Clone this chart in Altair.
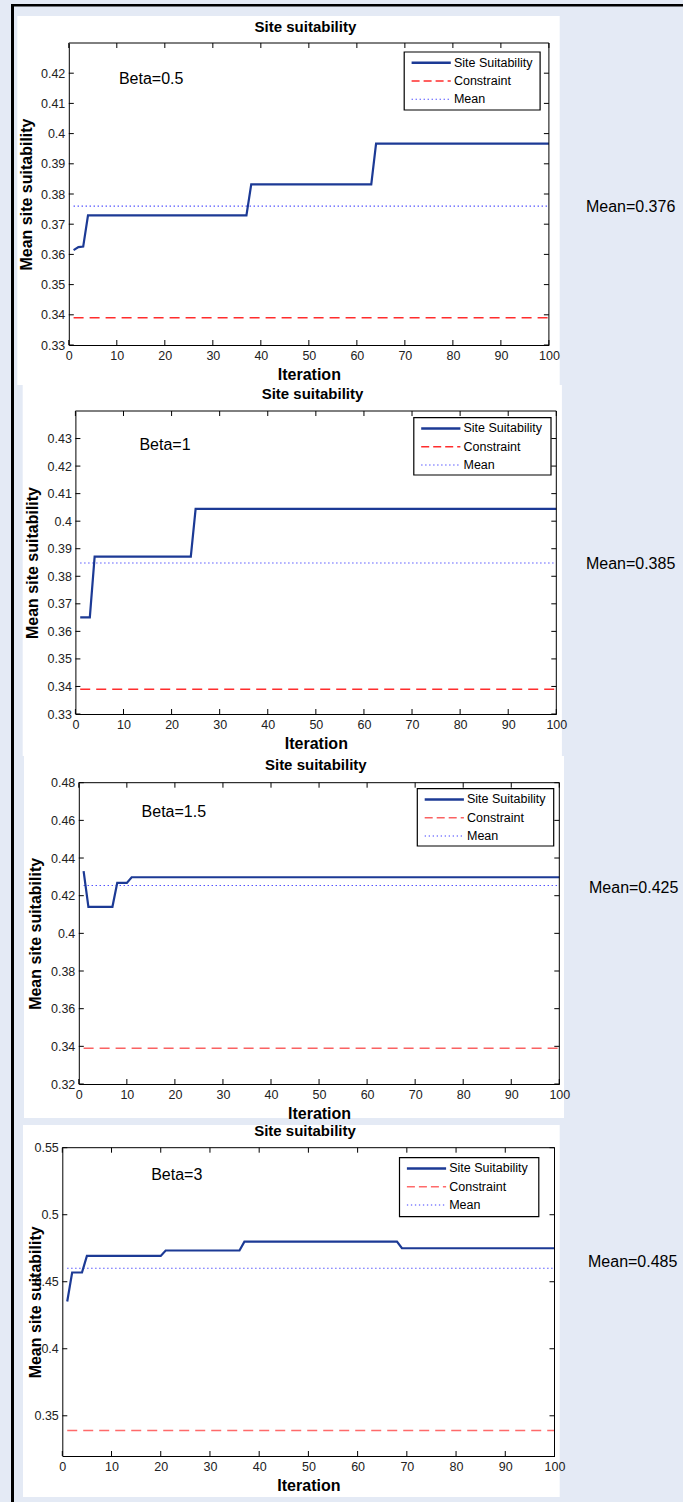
import altair as alt
import pandas as pd

# ---------------- data ----------------
BETA_LABELS = ["Beta=0.5", "Beta=1", "Beta=1.5", "Beta=3"]
MEAN_LABELS = ["Mean=0.376", "Mean=0.385", "Mean=0.425", "Mean=0.485"]
LEGEND_LABELS = ["Site Suitability", "Constraint", "Mean"]
TITLE = "Site suitability"

ITER_1 = [1, 2, 3, 4, 37, 38, 63, 64, 100]
SUIT_1 = [0.3614, 0.3624, 0.3626, 0.3729, 0.3729, 0.3832, 0.3832, 0.3967, 0.3967]

ITER_2 = [1, 3, 4, 24, 25, 100]
SUIT_2 = [0.3651, 0.3651, 0.3871, 0.3871, 0.4045, 0.4045]

ITER_3 = [1, 2, 7, 8, 10, 11, 100]
SUIT_3 = [0.4330, 0.4141, 0.4141, 0.4268, 0.4268, 0.4298, 0.4298]

ITER_4 = [1, 2, 4, 5, 20, 21, 36, 37, 68, 69, 100]
SUIT_4 = [0.4353, 0.4569, 0.4569, 0.4693, 0.4693, 0.4733, 0.4733, 0.4799, 0.4799, 0.4750, 0.4750]

CONSTRAINT = [0.339, 0.339, 0.339, 0.339]
MEAN_LINE = [0.376, 0.3848, 0.4254, 0.4601]

X_TICKS = [0, 10, 20, 30, 40, 50, 60, 70, 80, 90, 100]
Y_DOMAINS = [[0.33, 0.43], [0.33, 0.44], [0.32, 0.48], [0.32, 0.55]]
Y_TICKS = [
    [0.33, 0.34, 0.35, 0.36, 0.37, 0.38, 0.39, 0.40, 0.41, 0.42],
    [0.33, 0.34, 0.35, 0.36, 0.37, 0.38, 0.39, 0.40, 0.41, 0.42, 0.43],
    [0.32, 0.34, 0.36, 0.38, 0.40, 0.42, 0.44, 0.46, 0.48],
    [0.35, 0.40, 0.45, 0.50, 0.55],
]

ITERS = [ITER_1, ITER_2, ITER_3, ITER_4]
SUITS = [SUIT_1, SUIT_2, SUIT_3, SUIT_4]

# ---------------- styling / layout ----------------
W_ALL, H_ALL = 683, 1502
SITE_C = "#1C3A95"
CONSTR_C = ["#FF2D2D", "#FF2D2D", "#FA6262", "#FF6A6A"]
MEAN_C = "#4040FF"
BG = "#E4EAF5"
SANS = "Liberation Sans"

# absolute page geometry of each sub-figure (pixels)
GEOM = [
    dict(px=(68.8, 548.9), py=(43.0, 345.0), white=(17.3, 16, 559.7, 385),
         title=(305.4, 26.7), beta=(118.9, 79), leg=(404.2, 52, 540.1, 110),
         mean=(585.9, 206.7), ytx=-42.7),
    dict(px=(75.4, 556.3), py=(411.0, 714.0), white=(22.7, 385, 561.9, 756),
         title=(312.5, 394), beta=(139.4, 445), leg=(413.8, 417.7, 551.0, 475),
         mean=(585.9, 564), ytx=-42.7),
    dict(px=(78.8, 559.3), py=(782.7, 1084.0), white=(24.0, 756, 564.0, 1118),
         title=(315.8, 765), beta=(141.6, 811.7), leg=(417.3, 788.7, 553.7, 846),
         mean=(589.0, 887.7), ytx=-42.9),
    dict(px=(62.3, 554.5), py=(1147.7, 1456.0), white=(23.0, 1125, 559.7, 1497),
         title=(305.0, 1131), beta=(151.2, 1175), leg=(399.5, 1157.7, 538.8, 1216.7),
         mean=(588.0, 1261.7), ytx=-26.6),
]

ONE = pd.DataFrame({"k": [0]})


def pix_rect(x0, y0, x1, y1, **kw):
    return alt.Chart(ONE).mark_rect(**kw).encode(
        x=alt.value(x0), x2=alt.value(x1), y=alt.value(y0), y2=alt.value(y1))


def pix_text(x, y, text, **kw):
    return alt.Chart(ONE).mark_text(**kw).encode(
        x=alt.value(x), y=alt.value(y), text=alt.value(text))


layers = []
# page frame (thick black border on top and left)
layers.append(pix_rect(11, 4, 14, H_ALL, color="black"))
layers.append(pix_rect(11, 4, W_ALL, 6.5, color="black"))

for i, g in enumerate(GEOM):
    x0, x1 = g["px"]
    ytop, ybot = g["py"]
    xs = alt.Scale(domain=[0, 100], range=[x0, x1], nice=False, zero=False)
    ys = alt.Scale(domain=Y_DOMAINS[i], range=[ybot, ytop], nice=False, zero=False)

    # white figure background
    wx0, wy0, wx1, wy1 = g["white"]
    layers.append(pix_rect(wx0, wy0, wx1, wy1, color="white"))

    xaxis = alt.Axis(orient="bottom", offset=ybot - H_ALL, values=X_TICKS, format="d",
                     title="Iteration", grid=False, ticks=False, labelFlush=False,
                     domain=True, domainColor="black", domainWidth=1, zindex=1,
                     labelFont=SANS, labelFontSize=12.5, labelColor="#222", labelPadding=4,
                     titleFont=SANS, titleFontSize=16, titleFontWeight="bold", titleColor="black",
                     titleY=29.5, titleBaseline="middle")
    yaxis = alt.Axis(orient="left", offset=-x0, values=Y_TICKS[i], format=".2~f",
                     title="Mean site suitability", grid=False, ticks=False, labelFlush=False,
                     domain=True, domainColor="black", domainWidth=1, zindex=1,
                     labelFont=SANS, labelFontSize=12.5, labelColor="#222", labelPadding=4,
                     titleFont=SANS, titleFontSize=16, titleFontWeight="bold", titleColor="black",
                     titleX=g["ytx"], titleBaseline="middle")

    # constraint line (carries the axes)
    cons = pd.DataFrame({"a": [1], "b": [100], "v": [CONSTRAINT[i]]})
    layers.append(alt.Chart(cons).mark_rule(color=CONSTR_C[i], strokeWidth=1.4, strokeDash=[10, 6]).encode(
        x=alt.X("a:Q", scale=xs, axis=xaxis), x2="b", y=alt.Y("v:Q", scale=ys, axis=yaxis)))
    # mean line
    mean = pd.DataFrame({"a": [1], "b": [100], "v": [MEAN_LINE[i]]})
    layers.append(alt.Chart(mean).mark_rule(color=MEAN_C, strokeWidth=1.1, strokeDash=[1.3, 2.7]).encode(
        x=alt.X("a:Q", scale=xs, axis=None), x2="b", y=alt.Y("v:Q", scale=ys, axis=None)))
    # site suitability
    site = pd.DataFrame({"it": ITERS[i], "v": SUITS[i]})
    layers.append(alt.Chart(site).mark_line(color=SITE_C, strokeWidth=2.2).encode(
        x=alt.X("it:Q", scale=xs, axis=None), y=alt.Y("v:Q", scale=ys, axis=None)))

    # top and right box lines
    layers.append(alt.Chart(ONE).mark_rule(color="black", strokeWidth=1).encode(
        x=alt.value(x0), x2=alt.value(x1), y=alt.value(ytop)))
    layers.append(alt.Chart(ONE).mark_rule(color="black", strokeWidth=1).encode(
        x=alt.value(x1), y=alt.value(ytop), y2=alt.value(ybot)))

    # inward ticks on all four sides
    xt = pd.DataFrame({"t": X_TICKS})
    yt = pd.DataFrame({"t": Y_TICKS[i]})
    layers.append(alt.Chart(xt).mark_rule(color="black").encode(
        x=alt.X("t:Q", scale=xs, axis=None), y=alt.value(ybot), y2=alt.value(ybot - 5)))
    layers.append(alt.Chart(xt).mark_rule(color="black").encode(
        x=alt.X("t:Q", scale=xs, axis=None), y=alt.value(ytop), y2=alt.value(ytop + 5)))
    layers.append(alt.Chart(yt).mark_rule(color="black").encode(
        y=alt.Y("t:Q", scale=ys, axis=None), x=alt.value(x0), x2=alt.value(x0 + 5)))
    layers.append(alt.Chart(yt).mark_rule(color="black").encode(
        y=alt.Y("t:Q", scale=ys, axis=None), x=alt.value(x1), x2=alt.value(x1 - 5)))

    # title, beta annotation
    layers.append(pix_text(g["title"][0], g["title"][1], TITLE, font=SANS, fontSize=15,
                           fontWeight="bold", color="black", align="center", baseline="middle"))
    layers.append(pix_text(g["beta"][0], g["beta"][1], BETA_LABELS[i], font=SANS, fontSize=16,
                           color="black", align="left", baseline="middle"))

    # legend
    lx0, ly0, lx1, ly1 = g["leg"]
    layers.append(pix_rect(lx0, ly0, lx1, ly1, fill="white", stroke="black", strokeWidth=1.2))
    rows = [10.7, 29.0, 47.3]
    styles = [
        dict(color=SITE_C, strokeWidth=2.5),
        dict(color=CONSTR_C[i], strokeWidth=1.4, strokeDash=[8, 4]),
        dict(color=MEAN_C, strokeWidth=1.1, strokeDash=[1.3, 2.7]),
    ]
    for r, st, lab in zip(rows, styles, LEGEND_LABELS):
        layers.append(alt.Chart(ONE).mark_rule(**st).encode(
            x=alt.value(lx0 + 7.4), x2=alt.value(lx0 + 46.6), y=alt.value(ly0 + r)))
        layers.append(pix_text(lx0 + 49.7, ly0 + r, lab, font=SANS, fontSize=12.5,
                               color="black", align="left", baseline="middle"))

    # mean label on the right
    layers.append(pix_text(g["mean"][0], g["mean"][1], MEAN_LABELS[i], font=SANS, fontSize=16,
                           color="black", align="left", baseline="middle"))

chart = alt.layer(*layers).resolve_scale(x="independent", y="independent") \
    .properties(width=W_ALL, height=H_ALL, background=BG, padding=0,
                autosize=alt.AutoSizeParams(type="none")) \
    .configure_view(stroke=None, fill=None)

chart.save("out.html", embed_options={"renderer": "svg", "actions": False})
